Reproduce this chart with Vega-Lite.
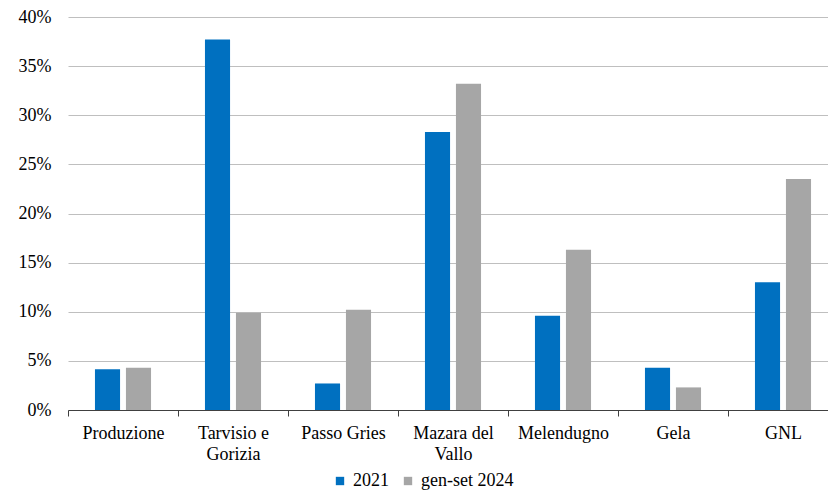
{
  "$schema": "https://vega.github.io/schema/vega-lite/v6.json",
  "autosize": "none",
  "width": 770,
  "height": 393,
  "padding": {"left": 68, "top": 17, "right": 0, "bottom": 82},
  "background": "white",
  "data": {
    "values": [
      {"cat": "Produzione", "serie": "2021", "v": 4.15},
      {"cat": "Produzione", "serie": "gen-set 2024", "v": 4.3},
      {"cat": "Tarvisio e Gorizia", "serie": "2021", "v": 37.7},
      {"cat": "Tarvisio e Gorizia", "serie": "gen-set 2024", "v": 9.9},
      {"cat": "Passo Gries", "serie": "2021", "v": 2.7},
      {"cat": "Passo Gries", "serie": "gen-set 2024", "v": 10.2},
      {"cat": "Mazara del Vallo", "serie": "2021", "v": 28.3},
      {"cat": "Mazara del Vallo", "serie": "gen-set 2024", "v": 33.2},
      {"cat": "Melendugno", "serie": "2021", "v": 9.6},
      {"cat": "Melendugno", "serie": "gen-set 2024", "v": 16.3},
      {"cat": "Gela", "serie": "2021", "v": 4.3},
      {"cat": "Gela", "serie": "gen-set 2024", "v": 2.3},
      {"cat": "GNL", "serie": "2021", "v": 13.0},
      {"cat": "GNL", "serie": "gen-set 2024", "v": 23.5}
    ]
  },
  "mark": {"type": "bar"},
  "encoding": {
    "x": {
      "field": "cat",
      "type": "nominal",
      "sort": null,
      "scale": {"paddingInner": 0, "paddingOuter": 0},
      "axis": {
        "title": null,
        "labelAngle": 0,
        "labelFont": "'Liberation Serif', 'Times New Roman', serif",
        "labelFontSize": 18,
        "labelColor": "#000000",
        "labelPadding": 8,
        "labelLineHeight": 21,
        "labelExpr": "datum.label == 'Tarvisio e Gorizia' ? ['Tarvisio e', 'Gorizia'] : datum.label == 'Mazara del Vallo' ? ['Mazara del', 'Vallo'] : datum.label",
        "domainColor": "#404040",
        "domainWidth": 1,
        "tickColor": "#404040",
        "tickSize": 6,
        "tickBand": "extent",
        "grid": false
      }
    },
    "xOffset": {
      "field": "serie",
      "type": "nominal",
      "scale": {"paddingInner": 0.19, "paddingOuter": 0.87}
    },
    "y": {
      "field": "v",
      "type": "quantitative",
      "scale": {"domain": [0, 40], "nice": false},
      "axis": {
        "title": null,
        "values": [0, 5, 10, 15, 20, 25, 30, 35, 40],
        "labelExpr": "datum.value + '%'",
        "labelFont": "'Liberation Serif', 'Times New Roman', serif",
        "labelFontSize": 18,
        "labelColor": "#000000",
        "labelPadding": 17,
        "domain": false,
        "ticks": false,
        "grid": true,
        "gridColor": "#BFBFBF",
        "gridWidth": 1
      }
    },
    "color": {
      "field": "serie",
      "type": "nominal",
      "scale": {"domain": ["2021", "gen-set 2024"], "range": ["#0070C0", "#A6A6A6"]},
      "legend": {
        "title": null,
        "orient": "none",
        "direction": "horizontal",
        "legendX": 263,
        "legendY": 455,
        "symbolType": "square",
        "symbolSize": 70,
        "symbolOpacity": 1,
        "labelFont": "'Liberation Serif', 'Times New Roman', serif",
        "labelFontSize": 18,
        "labelColor": "#000000",
        "labelOffset": 4,
        "columnPadding": 10
      }
    }
  },
  "config": {
    "view": {"stroke": null}
  }
}
